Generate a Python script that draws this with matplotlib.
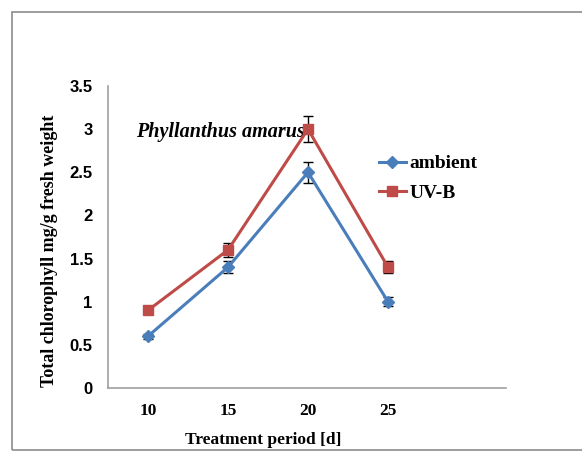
import matplotlib.pyplot as plt
from matplotlib.patches import Rectangle
from matplotlib.lines import Line2D

# data
periods = ['10', '15', '20', '25']
ambient = [0.6, 1.4, 2.5, 1.0]
ambient_err = [0.03, 0.07, 0.12, 0.05]
uvb = [0.9, 1.6, 3.0, 1.4]
uvb_err = [0.03, 0.08, 0.15, 0.07]

serif = 'Liberation Serif'
sans = 'Liberation Sans'
blue = '#4a7ebb'
red = '#be4b48'

fig = plt.figure(figsize=(5.82, 4.53), dpi=100)

# outer chart-area frame (right edge runs off the picture)
fig.patches.append(Rectangle((12 / 582, 1 - 450 / 453), 1.0, (450 - 12) / 453,
                             transform=fig.transFigure, fill=False,
                             edgecolor='#8c8c8c', linewidth=1.2))

ax = fig.add_axes([108 / 582, 1 - 388 / 453, 398 / 582, 302 / 453])

x = list(range(len(periods)))
ax.errorbar(x, ambient, yerr=ambient_err, color=blue, marker='D',
            markersize=6, linewidth=2.2, ecolor='black', elinewidth=1,
            capsize=3.5, capthick=1, zorder=3)
ax.errorbar(x, uvb, yerr=uvb_err, color=red, marker='s',
            markersize=7, linewidth=2.2, ecolor='black', elinewidth=1,
            capsize=3.5, capthick=1, zorder=3)

ax.set_xlim(-0.5, 4.475)
ax.set_ylim(0, 3.5)
ax.set_yticks([0, 0.5, 1, 1.5, 2, 2.5, 3, 3.5])
ax.set_yticklabels(['0', '0.5', '1', '1.5', '2', '2.5', '3', '3.5'],
                   fontfamily=sans, fontweight='bold', fontsize=12)
ax.set_xticks(x)
ax.set_xticklabels(periods, fontfamily=serif, fontweight='bold', fontsize=12.5)
ax.tick_params(axis='x', length=0, pad=11)
ax.tick_params(axis='y', length=0, pad=11)

for s in ['top', 'right']:
    ax.spines[s].set_visible(False)
for s in ['left', 'bottom']:
    ax.spines[s].set_color('#a0a0a0')
    ax.spines[s].set_linewidth(1.2)

ax.set_xlabel('Treatment period [d]', fontfamily=serif, fontweight='bold', fontsize=12.5)
ax.xaxis.set_label_coords(0.39, -0.145)
ax.set_ylabel('Total chlorophyll mg/g fresh weight', fontfamily=serif,
              fontweight='bold', fontsize=13)
ax.yaxis.set_label_coords(-0.125, 0.455)

ax.text(0.07, 0.83, 'Phyllanthus amarus', transform=ax.transAxes,
        fontfamily=serif, fontweight='bold', fontstyle='italic', fontsize=14.5)

handles = [Line2D([], [], color=blue, marker='D', markersize=6, linewidth=2.2),
           Line2D([], [], color=red, marker='s', markersize=7, linewidth=2.2)]
ax.legend(handles, ['ambient', 'UV-B'], loc='upper left',
          bbox_to_anchor=(0.636, 0.83), frameon=False,
          prop={'family': serif, 'weight': 'bold', 'size': 14},
          handlelength=1.4, handletextpad=0.2, labelspacing=0.6)

plt.savefig('out.png', dpi=100)
